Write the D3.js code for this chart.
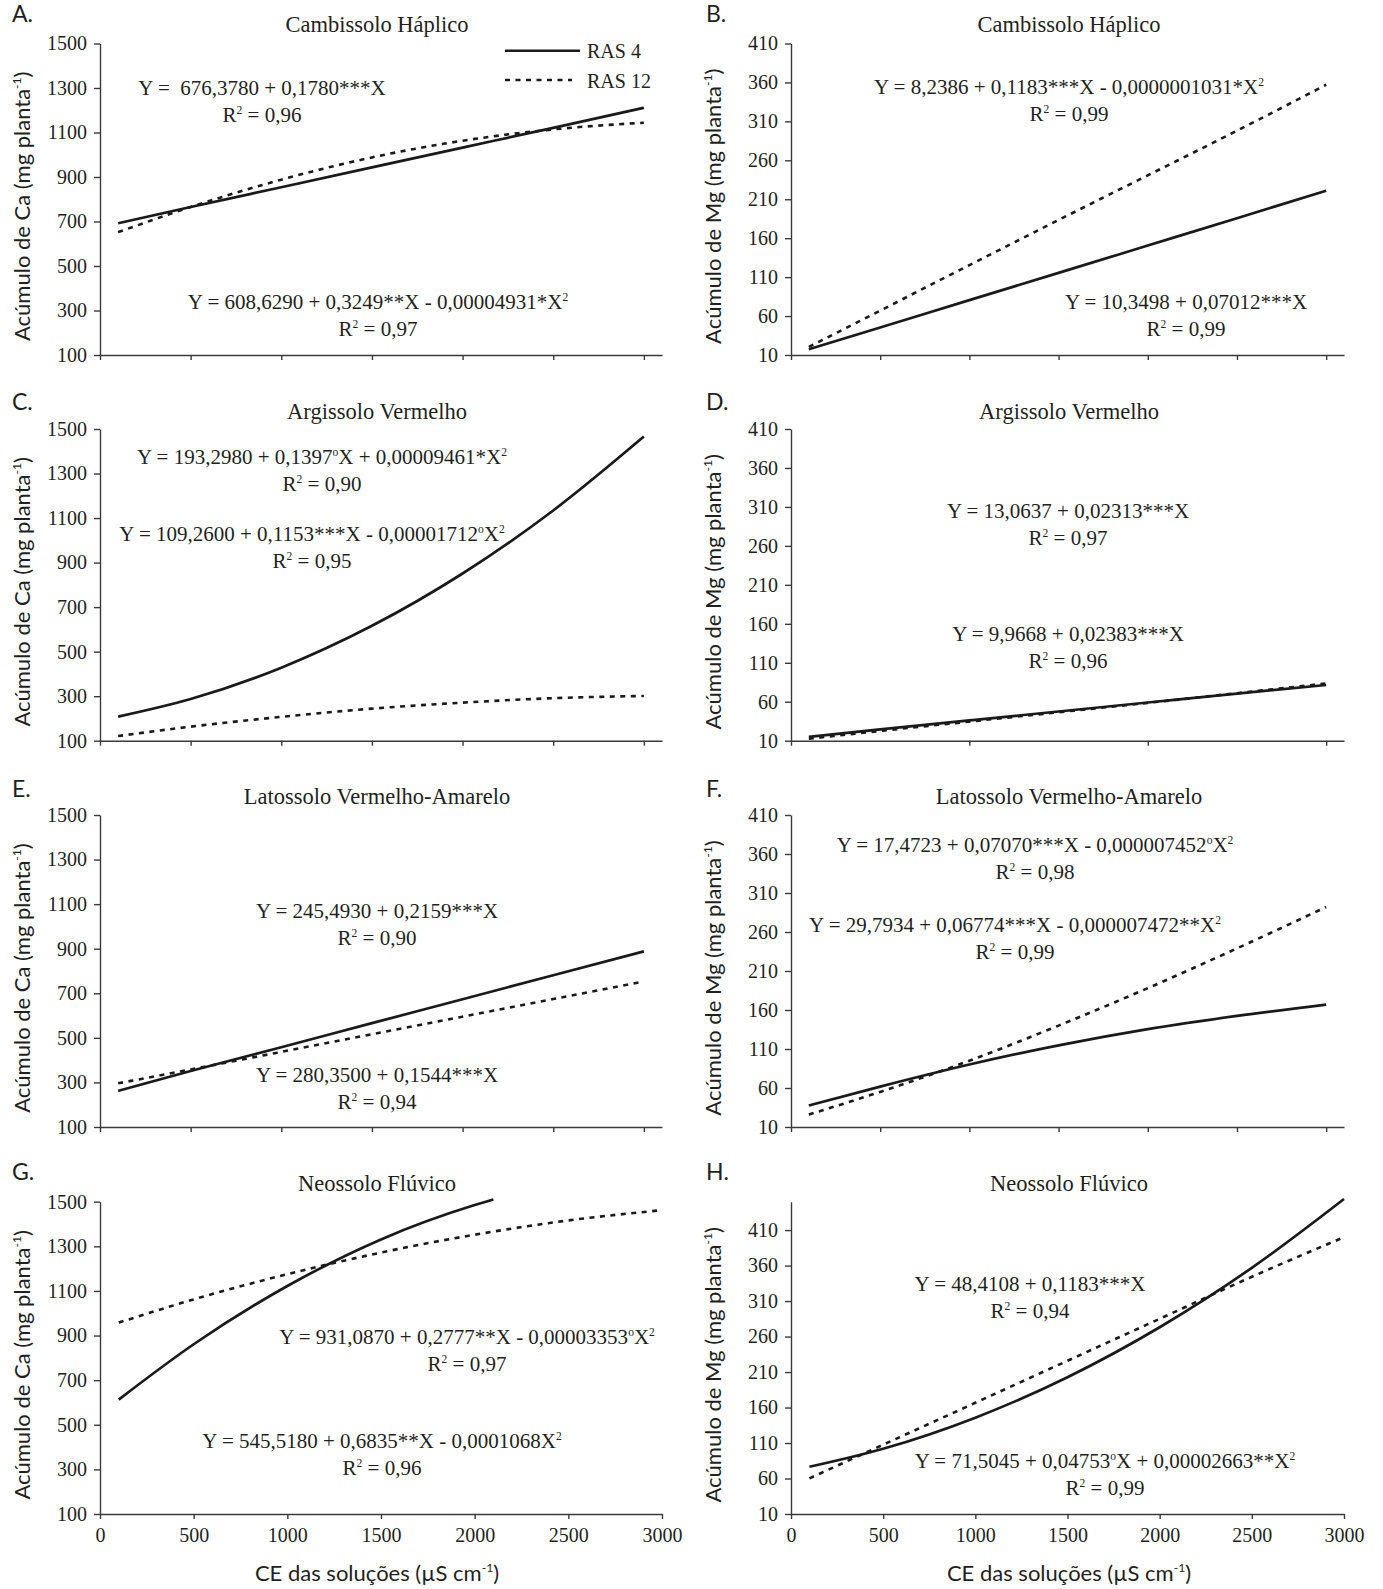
<!DOCTYPE html>
<html><head><meta charset="utf-8">
<script src="https://cdn.jsdelivr.net/npm/d3@7"></script>
<style>
body{margin:0;background:#fff;}
svg text{fill:#231f20;white-space:pre;}
</style></head><body>
<svg id="chart" width="1383" height="1589"></svg>
<script>
// ---------- data ----------
const ceX      = [100, 500, 1000, 1500, 2000, 2500, 3000];
const ceXShort = [100, 500, 1000, 1500, 2000, 2100];

const caCambRAS4  = [692, 765, 854, 943, 1032, 1121, 1211];
const caCambRAS12 = [652, 765, 888, 988, 1063, 1114, 1144];
const mgCambRAS4  = [17.4, 45.4, 80.5, 115.5, 150.6, 185.7, 221];
const mgCambRAS12 = [20.5, 67, 125.5, 183.4, 240.7, 298, 357];

const caArgRAS4   = [208, 287, 428, 616, 851, 1134, 1466];
const caArgRAS12  = [121, 163, 207, 244, 271, 291, 301];
const mgArgRAS4   = [15, 24.5, 36, 47.5, 59, 70.5, 81.5];
const mgArgRAS12  = [12.5, 22.5, 34.5, 46.5, 58.5, 71, 83.5];

const caLatRAS4   = [262, 351, 458, 566, 673, 781, 888];
const caLatRAS12  = [296, 358, 437, 516, 595, 674, 753];
const mgLatRAS4   = [37.5, 61.8, 90.1, 114.6, 135.4, 152.4, 167];
const mgLatRAS12  = [26, 55, 95, 140, 188, 239, 292];

const caFluRAS4   = [613, 861, 1122, 1331, 1485, 1510];
const caFluRAS12  = [958, 1062, 1175, 1272, 1352, 1416, 1462];
const mgFluRAS4   = [76.5, 101.9, 145.7, 202.7, 273.1, 356.8, 453.8];
const mgFluRAS12  = [60.2, 107.6, 166.7, 225.9, 285, 344.2, 400];

const ticksCa  = [100, 300, 500, 700, 900, 1100, 1300, 1500];
const ticksMg  = [10, 60, 110, 160, 210, 260, 310, 360, 410];
const ticksCE  = [0, 500, 1000, 1500, 2000, 2500, 3000];
const ticksCE2 = [0, 1000, 2000, 3000];

const panelLetters = ["A.", "B.", "C.", "D.", "E.", "F.", "G.", "H."];
const soilNames = ["Cambissolo Háplico", "Argissolo Vermelho", "Latossolo Vermelho-Amarelo", "Neossolo Flúvico"];
const legendNames = ["RAS 4", "RAS 12"];
const yLabelCa = "Acúmulo de Ca (mg planta^-^1)";
const yLabelMg = "Acúmulo de Mg (mg planta^-^1)";
const xLabel = "CE das soluções (µS cm^-^1)";

const eqText = [
  ["Y =  676,3780 + 0,1780***X", "R^2 = 0,96", "Y = 608,6290 + 0,3249**X - 0,00004931*X^2", "R^2 = 0,97"],
  ["Y = 8,2386 + 0,1183***X - 0,0000001031*X^2", "R^2 = 0,99", "Y = 10,3498 + 0,07012***X", "R^2 = 0,99"],
  ["Y = 193,2980 + 0,1397^oX + 0,00009461*X^2", "R^2 = 0,90", "Y = 109,2600 + 0,1153***X - 0,00001712^oX^2", "R^2 = 0,95"],
  ["Y = 13,0637 + 0,02313***X", "R^2 = 0,97", "Y = 9,9668 + 0,02383***X", "R^2 = 0,96"],
  ["Y = 245,4930 + 0,2159***X", "R^2 = 0,90", "Y = 280,3500 + 0,1544***X", "R^2 = 0,94"],
  ["Y = 17,4723 + 0,07070***X - 0,000007452^oX^2", "R^2 = 0,98", "Y = 29,7934 + 0,06774***X - 0,000007472**X^2", "R^2 = 0,99"],
  ["Y = 931,0870 + 0,2777**X - 0,00003353^oX^2", "R^2 = 0,97", "Y = 545,5180 + 0,6835**X - 0,0001068X^2", "R^2 = 0,96"],
  ["Y = 48,4108 + 0,1183***X", "R^2 = 0,94", "Y = 71,5045 + 0,04753^oX + 0,00002663**X^2", "R^2 = 0,99"]
];

// ---------- layout ----------
const colX = [[100, 662], [791, 1344]];
const rowY = [[43.5, 355], [429, 740.7], [815, 1127], [1201.7, 1514]];
const letterX = [12, 706];
const letterBase = [22, 410, 797, 1180];
const titleBase = [32, 419, 804, 1191];
const titleCx = [377, 1069];
const ylabCx = [22, 713];
const xlabCx = [377, 1069];
// equation placement: [cx, baseline] for eq1 and eq2
const eqPos = [
  [[262, 95], [378, 309]],
  [[1069, 94], [1186, 309]],
  [[322, 464], [312, 541]],
  [[1068, 518], [1068, 641]],
  [[377, 918], [377, 1082]],
  [[1035, 852], [1015, 932]],
  [[467, 1344], [382, 1448]],
  [[1030, 1291], [1105, 1468]]
];
const r2Gap = 27;

const panels = [
  {ca: true,  xMax: 3100, xt: ticksCE,  lab: false, s: [[ceX, caCambRAS4], [ceX, caCambRAS12]]},
  {ca: false, xMax: 3100, xt: ticksCE,  lab: false, s: [[ceX, mgCambRAS4], [ceX, mgCambRAS12]]},
  {ca: true,  xMax: 3100, xt: ticksCE,  lab: false, s: [[ceX, caArgRAS4], [ceX, caArgRAS12]]},
  {ca: false, xMax: 3100, xt: ticksCE2, lab: false, s: [[ceX, mgArgRAS4], [ceX, mgArgRAS12]]},
  {ca: true,  xMax: 3100, xt: ticksCE,  lab: false, s: [[ceX, caLatRAS4], [ceX, caLatRAS12]]},
  {ca: false, xMax: 3100, xt: ticksCE,  lab: false, s: [[ceX, mgLatRAS4], [ceX, mgLatRAS12]]},
  {ca: true,  xMax: 3000, xt: ticksCE,  lab: true,  s: [[ceXShort, caFluRAS4], [ceX, caFluRAS12]]},
  {ca: false, xMax: 3000, xt: ticksCE,  lab: true,  s: [[ceX, mgFluRAS4], [ceX, mgFluRAS12]], yMax: 450}
];

const SERIF = "'Liberation Serif','Times New Roman',serif";
const SANS = "Lato,'Open Sans',sans-serif";
const INK = "#231f20";

const svg = d3.select("#chart");

function rich(textSel, str, fs) {
  const parts = [];
  let buf = "";
  for (let i = 0; i < str.length; i++) {
    if (str[i] === "^") {
      if (buf) { parts.push({t: buf, sup: false}); buf = ""; }
      parts.push({t: str[i + 1], sup: true}); i++;
    } else buf += str[i];
  }
  if (buf) parts.push({t: buf, sup: false});
  let up = false;
  parts.forEach(p => {
    const ts = textSel.append("tspan").text(p.t);
    if (p.sup) {
      ts.attr("font-size", fs * 0.55);
      if (!up) { ts.attr("dy", -fs * 0.4); up = true; }
    } else if (up) {
      ts.attr("dy", fs * 0.4); up = false;
    }
  });
  return textSel;
}

panels.forEach((p, i) => {
  const col = i % 2, row = Math.floor(i / 2);
  const [x0, x1] = colX[col];
  const [yTop, yBot] = rowY[row];
  const x = d3.scaleLinear().domain([0, p.xMax]).range([x0, x1]);
  const yDom = p.ca ? [100, 1500] : [10, p.yMax || 410];
  const y = d3.scaleLinear().domain(yDom).range([yBot, yTop]);
  const g = svg.append("g");

  // axes
  const ya = g.append("g").attr("transform", `translate(${x0},0)`)
    .call(d3.axisLeft(y).tickValues(p.ca ? ticksCa : ticksMg).tickFormat(d3.format("d"))
      .tickSize(6).tickSizeOuter(0).tickPadding(7));
  const xa = g.append("g").attr("transform", `translate(0,${yBot})`)
    .call(d3.axisBottom(x).tickValues(p.xt).tickSize(5).tickSizeOuter(0).tickPadding(9)
      .tickFormat(p.lab ? d3.format("d") : () => ""));
  [ya, xa].forEach(a => {
    a.select(".domain").attr("stroke", "#3a3a3a").attr("stroke-width", 1.4);
    a.selectAll(".tick line").attr("stroke", "#3a3a3a").attr("stroke-width", 1.4);
    a.selectAll(".tick text").attr("font-family", SERIF).attr("font-size", 20).attr("fill", INK);
  });

  // curves
  const line = d3.line().x(d => x(d[0])).y(d => y(d[1])).curve(d3.curveMonotoneX);
  p.s.forEach((s, k) => {
    const pts = s[0].map((v, j) => [v, s[1][j]]);
    g.append("path").attr("d", line(pts)).attr("fill", "none")
      .attr("stroke", "#1a1a1a").attr("stroke-width", k === 0 ? 2.7 : 2.6)
      .attr("stroke-dasharray", k === 0 ? null : "5,5.5");
  });

  // letter and title
  g.append("text").attr("x", letterX[col]).attr("y", letterBase[row])
    .attr("font-family", SANS).attr("font-size", 23).text(panelLetters[i]);
  g.append("text").attr("x", titleCx[col]).attr("y", titleBase[row]).attr("text-anchor", "middle")
    .attr("font-family", SERIF).attr("font-size", 22.5).text(soilNames[row]);

  // y label
  const cy = (yTop + yBot) / 2 + 7;
  const yl = g.append("text").attr("transform", `translate(${ylabCx[col]},${cy}) rotate(-90)`)
    .attr("text-anchor", "middle").attr("dy", "0.35em")
    .attr("font-family", SANS).attr("font-size", 22);
  rich(yl, p.ca ? yLabelCa : yLabelMg, 22);

  // x label
  if (p.lab) {
    const xl = g.append("text").attr("x", xlabCx[col]).attr("y", 1581).attr("text-anchor", "middle")
      .attr("font-family", SANS).attr("font-size", 22);
    rich(xl, xLabel, 22);
  }

  // equations
  eqPos[i].forEach((pos, k) => {
    const e = g.append("text").attr("x", pos[0]).attr("y", pos[1]).attr("text-anchor", "middle")
      .attr("font-family", SERIF).attr("font-size", 21);
    rich(e, eqText[i][k * 2], 21);
    const r = g.append("text").attr("x", pos[0]).attr("y", pos[1] + r2Gap).attr("text-anchor", "middle")
      .attr("font-family", SERIF).attr("font-size", 21);
    rich(r, eqText[i][k * 2 + 1], 21);
  });

  // legend in panel A
  if (i === 0) {
    const lg = [[50.7, null], [80, "5,5.5"]];
    lg.forEach((l, k) => {
      g.append("line").attr("x1", 505).attr("x2", k === 0 ? 580 : 572).attr("y1", l[0]).attr("y2", l[0])
        .attr("stroke", "#1a1a1a").attr("stroke-width", 2.6).attr("stroke-dasharray", l[1]);
      g.append("text").attr("x", 587).attr("y", l[0] + 7.5).attr("font-family", SERIF)
        .attr("font-size", 20).text(legendNames[k]);
    });
  }
});
</script>
</body></html>
